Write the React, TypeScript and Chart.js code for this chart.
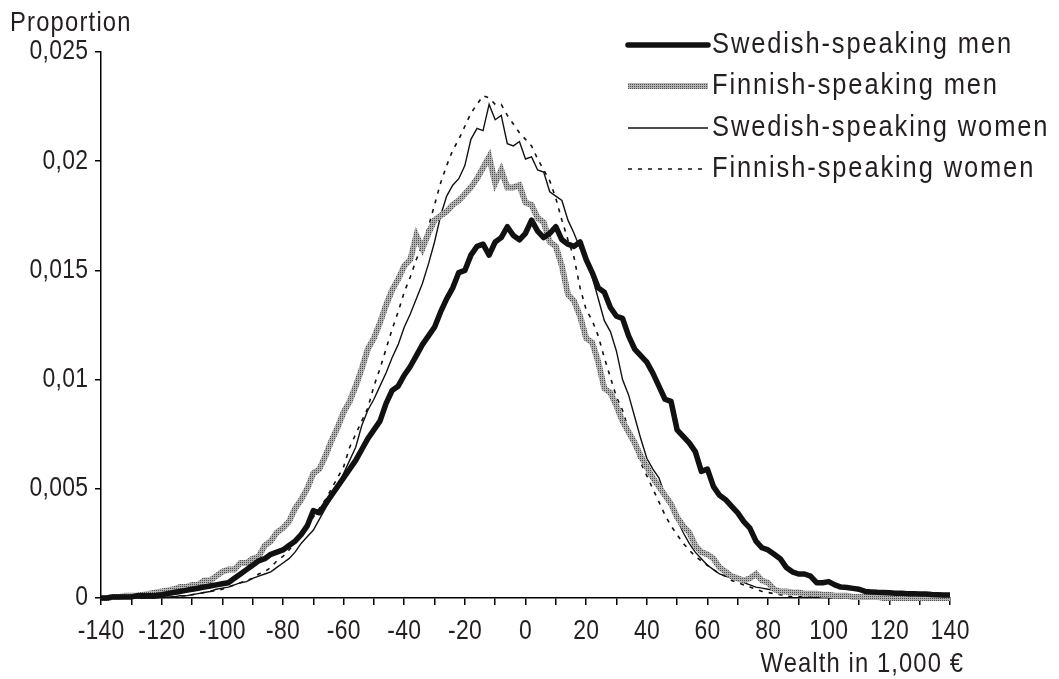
import React, { useEffect, useRef } from "react";
import { Chart, registerables } from "chart.js";
Chart.register(...registerables);

// Wealth bins (1,000 €)
const wealth = [
  -140, -138, -136, -134, -132, -130, -128, -126, -124, -122,
  -120, -118, -116, -114, -112, -110, -108, -106, -104, -102,
  -100, -98, -96, -94, -92, -90, -88, -86, -84, -82,
  -80, -78, -76, -74, -72, -70, -68, -66, -64, -62,
  -60, -58, -56, -54, -52, -50, -48, -46, -44, -42,
  -40, -38, -36, -34, -32, -30, -28, -26, -24, -22,
  -20, -18, -16, -14, -12, -10, -8, -6, -4, -2,
  0, 2, 4, 6, 8, 10, 12, 14, 16, 18,
  20, 22, 24, 26, 28, 30, 32, 34, 36, 38,
  40, 42, 44, 46, 48, 50, 52, 54, 56, 58,
  60, 62, 64, 66, 68, 70, 72, 74, 76, 78,
  80, 82, 84, 86, 88, 90, 92, 94, 96, 98,
  100, 102, 104, 106, 108, 110, 112, 114, 116, 118,
  120, 122, 124, 126, 128, 130, 132, 134, 136, 138,
  140,
];

const swedishMen = [
  0, 0, 0.00005, 0.00005, 0.00005, 0.00005, 0.0001, 0.0001, 0.0001, 0.00012,
  0.00015, 0.0002, 0.00025, 0.0003, 0.00035, 0.0004, 0.00045, 0.0005, 0.00055, 0.0006,
  0.00065, 0.0007, 0.0009, 0.0011, 0.0013, 0.0015, 0.0017, 0.0018, 0.002, 0.0021,
  0.0022, 0.0024, 0.0026, 0.0029, 0.0033, 0.004, 0.0039, 0.0043, 0.0047, 0.0051,
  0.0055, 0.0059, 0.0063, 0.0068, 0.0073, 0.0077, 0.0081, 0.0089, 0.0095, 0.0097,
  0.0102, 0.0106, 0.0111, 0.0116, 0.012, 0.0124, 0.0131, 0.0137, 0.0142, 0.0149,
  0.015, 0.0157, 0.0161, 0.0162, 0.0157, 0.0163, 0.0165, 0.017, 0.0166, 0.0164,
  0.0167, 0.0173, 0.0168, 0.0165, 0.0167, 0.017, 0.0164, 0.0162, 0.0161, 0.0163,
  0.0155, 0.0149, 0.0142, 0.014, 0.0133, 0.0129, 0.0128, 0.012, 0.0114, 0.0111,
  0.0108, 0.0103, 0.0097, 0.0091, 0.009, 0.0077, 0.0074, 0.0071, 0.0067, 0.0058,
  0.0059, 0.0051, 0.0047, 0.0045, 0.0042, 0.0039, 0.0035, 0.0032, 0.0026, 0.0023,
  0.0022, 0.002, 0.0018, 0.0014, 0.0012, 0.0011, 0.0011, 0.001, 0.0007, 0.0007,
  0.00075, 0.0006, 0.0005, 0.00048, 0.00044, 0.0004, 0.0003, 0.00028, 0.00026, 0.00025,
  0.00024, 0.00022, 0.00022, 0.0002, 0.0002, 0.00018, 0.00018, 0.00016, 0.00015, 0.00014,
  0.00014,
];

const finnishMen = [
  0, 0, 0.00005, 0.00005, 0.0001, 0.0001, 0.00012, 0.00015, 0.0002, 0.00025,
  0.0003, 0.00035, 0.0004, 0.0005, 0.0005, 0.0006, 0.0006, 0.0008, 0.0008, 0.001,
  0.0012, 0.0013, 0.0013, 0.0016, 0.0016, 0.0018, 0.0019, 0.0024, 0.0026, 0.003,
  0.0032, 0.0035, 0.0041, 0.0045, 0.005, 0.0057, 0.0059, 0.0065, 0.0072, 0.0078,
  0.0085, 0.009, 0.0097, 0.0105, 0.0114, 0.0119, 0.0126, 0.0134, 0.0141, 0.0146,
  0.0152, 0.0155, 0.0166, 0.016, 0.0167, 0.0173, 0.0175, 0.0177, 0.018, 0.0182,
  0.0185, 0.0188, 0.0192, 0.0197, 0.0202, 0.019, 0.0196, 0.0188, 0.0188, 0.0189,
  0.0181, 0.018, 0.0174, 0.0172, 0.0163, 0.0161, 0.0152, 0.0139, 0.0136, 0.0129,
  0.0119, 0.0117, 0.0108, 0.0096, 0.0094, 0.0088, 0.0081, 0.0076, 0.0071, 0.0065,
  0.006, 0.0055, 0.0051, 0.0047, 0.0043, 0.0037, 0.0033, 0.003, 0.0024, 0.0021,
  0.002, 0.0018, 0.0014, 0.0012, 0.001, 0.0009, 0.0008, 0.0009, 0.0011, 0.0008,
  0.0007, 0.0004, 0.0003, 0.0003, 0.00025, 0.00025, 0.0002, 0.0002, 0.0002, 0.00015,
  0.00015, 0.0001, 0.0001, 0.0001, 0.00005, 0.00005, 0.00005, 0.00005, 0.00005, 0,
  0, 0, 0, 0, 0, 0, 0, 0, 0, 0,
  0,
];

const swedishWomen = [
  0, 0, 0, 0, 0, 0, 0, 0, 0, 0,
  0.00003, 0.00005, 0.00005, 0.0001, 0.0001, 0.00015, 0.0002, 0.00025, 0.0003, 0.0004,
  0.00045, 0.0005, 0.0006, 0.0007, 0.00075, 0.0009, 0.001, 0.0011, 0.0012, 0.0014,
  0.0016, 0.0018, 0.0021, 0.0025, 0.0028, 0.0031, 0.0036, 0.0041, 0.0046, 0.0051,
  0.0057, 0.0063, 0.0069, 0.0079, 0.0086, 0.0091, 0.0097, 0.0103, 0.011, 0.0116,
  0.0124, 0.013, 0.0137, 0.0144, 0.0153, 0.0163, 0.0175, 0.0184, 0.0189, 0.0192,
  0.0198, 0.021, 0.0215, 0.0214, 0.0226, 0.0219, 0.0221, 0.0208, 0.0207, 0.0209,
  0.0201, 0.0202, 0.0196, 0.0195, 0.0186, 0.0184, 0.0182, 0.0173, 0.0167, 0.016,
  0.0155, 0.0147, 0.0137, 0.0127, 0.0122, 0.0113, 0.01, 0.0093, 0.0083, 0.0073,
  0.0064, 0.0059, 0.0055, 0.0047, 0.0042, 0.0036, 0.003, 0.0025, 0.0021, 0.0018,
  0.0015, 0.0013, 0.0011, 0.001, 0.0009, 0.0008, 0.0007, 0.0006, 0.0005, 0.00045,
  0.0004, 0.00035, 0.0003, 0.00025, 0.0002, 0.0002, 0.00015, 0.00012, 0.0001, 0.0001,
  0.00008, 0.00005, 0.00005, 0.00005, 0.00005, 0.00005, 0, 0, 0, 0,
  0, 0, 0, 0, 0, 0, 0, 0, 0, 0,
  0,
];

const finnishWomen = [
  0, 0, 0, 0, 0, 0, 0, 0, 0, 0,
  0.00003, 0.00005, 0.00005, 0.0001, 0.0001, 0.00015, 0.0002, 0.00025, 0.0003, 0.00035,
  0.0004, 0.0005, 0.0006, 0.0007, 0.0008, 0.0009, 0.0011, 0.0012, 0.0014, 0.0017,
  0.0019, 0.0022, 0.0025, 0.0029, 0.0033, 0.0037, 0.0041, 0.0045, 0.005, 0.0055,
  0.006, 0.0069, 0.0075, 0.0081, 0.0087, 0.0097, 0.0105, 0.0114, 0.0123, 0.0131,
  0.014, 0.0147, 0.0155, 0.0162, 0.017, 0.018, 0.019, 0.0198, 0.0205, 0.021,
  0.0216, 0.0222, 0.0226, 0.023, 0.0229, 0.0226, 0.0226, 0.0221, 0.0217, 0.0213,
  0.021, 0.0207, 0.0201, 0.0196, 0.0191, 0.0183, 0.0173, 0.0164, 0.0156, 0.0142,
  0.0132, 0.0127, 0.012, 0.011, 0.0101, 0.0092, 0.0086, 0.0077, 0.0069, 0.0062,
  0.0056, 0.005, 0.0044, 0.0038, 0.0033, 0.0029, 0.0025, 0.0022, 0.0019, 0.0017,
  0.0015, 0.0013, 0.0011, 0.001, 0.0008, 0.0007, 0.0006, 0.0005, 0.0004, 0.0003,
  0.00025, 0.0002, 0.00015, 0.0001, 0.00005, 0.00005, 0.00005, 0.00005, 0.00005, 0.00005,
  0, 0, 0, 0, 0, 0, 0, 0, 0, 0,
  0, 0, 0, 0, 0, 0, 0, 0, 0, 0,
  0,
];

const seriesNames = [
  "Swedish-speaking men",
  "Finnish-speaking men",
  "Swedish-speaking women",
  "Finnish-speaking women",
];
const yTickLabels = ["0", "0,005", "0,01", "0,015", "0,02", "0,025"];
const yAxisTitle = "Proportion";
const xAxisTitle = "Wealth in 1,000 €";

const FONT = '"Liberation Sans", Arial, sans-serif';
const TEXT = "#231f20";
const SX = 0.85; // horizontal condensing of the text

function makePattern(ctx: CanvasRenderingContext2D) {
  const c = document.createElement("canvas");
  c.width = 2;
  c.height = 2;
  const g = c.getContext("2d")!;
  g.fillStyle = "#b2b2b2";
  g.fillRect(0, 0, 2, 2);
  g.fillStyle = "#505050";
  g.fillRect(0, 0, 1, 1);
  return ctx.createPattern(c, "repeat")!;
}

function drawText(
  c: CanvasRenderingContext2D,
  text: string,
  x: number,
  y: number,
  size: number,
  spacing: number,
  align: "left" | "right" | "center"
) {
  c.save();
  c.font = `${size}px ${FONT}`;
  (c as any).letterSpacing = `${spacing}px`;
  c.textAlign = "left";
  c.textBaseline = "middle";
  c.fillStyle = TEXT;
  const w = (c.measureText(text).width - spacing) * SX;
  const left = align === "left" ? x : align === "right" ? x - w : x - w / 2;
  c.translate(left, y);
  c.scale(SX, 1);
  c.fillText(text, 0, 0);
  c.restore();
}

export default function App() {
  const ref = useRef<HTMLCanvasElement>(null);
  useEffect(() => {
    const canvas = ref.current!;
    const ctx = canvas.getContext("2d")!;
    const pat = makePattern(ctx);
    const series = [swedishMen, finnishMen, swedishWomen, finnishWomen];
    const styles: any[] = [
      { borderColor: "#111", borderWidth: 5.5, borderDash: [], borderJoinStyle: "round" },
      { borderColor: pat, borderWidth: 6, borderDash: [], borderJoinStyle: "miter" },
      { borderColor: "#111", borderWidth: 1.4, borderDash: [], borderJoinStyle: "miter" },
      { borderColor: "#111", borderWidth: 1.6, borderDash: [4, 6], borderJoinStyle: "miter" },
    ];
    const legendY = [45, 86, 128, 169];

    const decor = {
      id: "decor",
      afterDraw(chart: any) {
        const c: CanvasRenderingContext2D = chart.ctx;
        // tick labels, placed through the library's scales
        const xs = chart.scales.x;
        xs.ticks.forEach((t: any) => {
          if (t.label) drawText(c, String(t.label), xs.getPixelForValue(t.value), 632, 27, 0.3, "center");
        });
        const ys = chart.scales.y;
        ys.ticks.forEach((t: any, i: number) => {
          drawText(c, yTickLabels[i], 88, ys.getPixelForValue(t.value), 27, 0.3, "right");
        });
        // legend
        c.save();
        styles.forEach((s, i) => {
          const y = legendY[i];
          c.beginPath();
          c.moveTo(628, y);
          c.lineTo(708, y);
          c.lineWidth = s.borderWidth;
          c.strokeStyle = s.borderColor;
          c.setLineDash(s.borderDash);
          c.lineCap = i === 0 ? "round" : "butt";
          c.stroke();
        });
        c.restore();
        seriesNames.forEach((n, i) => drawText(c, n, 712, legendY[i], 30, 2.2, "left"));
        // axis titles
        drawText(c, yAxisTitle, 10, 23, 28, 1.4, "left");
        drawText(c, xAxisTitle, 963, 664, 28, 1.3, "right");
      },
    };

    const chart = new Chart(canvas, {
      type: "line",
      data: {
        datasets: series.map((s, i) => ({
          label: seriesNames[i],
          data: wealth.map((w, j) => ({ x: w, y: s[j] })),
          ...styles[i],
          pointRadius: 0,
          tension: 0,
          fill: false,
          clip: false,
          borderCapStyle: "butt",
        })),
      },
      options: {
        animation: false,
        responsive: false,
        layout: { padding: { left: 0, top: 52, right: 109, bottom: 0 } },
        plugins: { legend: { display: false }, tooltip: { enabled: false } },
        scales: {
          x: {
            type: "linear",
            min: -140,
            max: 140,
            afterFit: (s: any) => {
              s.height = 81;
            },
            ticks: {
              display: false,
              stepSize: 10,
              autoSkip: false,
              maxRotation: 0,
              callback: (v: any) => (Number(v) % 20 === 0 ? String(v) : ""),
            },
            grid: { drawOnChartArea: false, drawTicks: true, tickLength: 7, color: "#000", lineWidth: 1.5 },
            border: { display: true, color: "#000", width: 1.5 },
          },
          y: {
            type: "linear",
            min: 0,
            max: 0.025,
            afterFit: (s: any) => {
              s.width = 101;
            },
            ticks: {
              display: false,
              stepSize: 0.005,
              callback: (_v: any, i: number) => yTickLabels[i],
            },
            grid: { drawOnChartArea: false, drawTicks: true, tickLength: 6, color: "#000", lineWidth: 1.5 },
            border: { display: true, color: "#000", width: 1.5 },
          },
        },
      },
      plugins: [decor],
    });
    return () => chart.destroy();
  }, []);
  return (
    <div style={{ position: "absolute", left: 0, top: 0, width: 1059, height: 679, background: "#fff" }}>
      <canvas ref={ref} width={1059} height={679} style={{ display: "block" }} />
    </div>
  );
}
